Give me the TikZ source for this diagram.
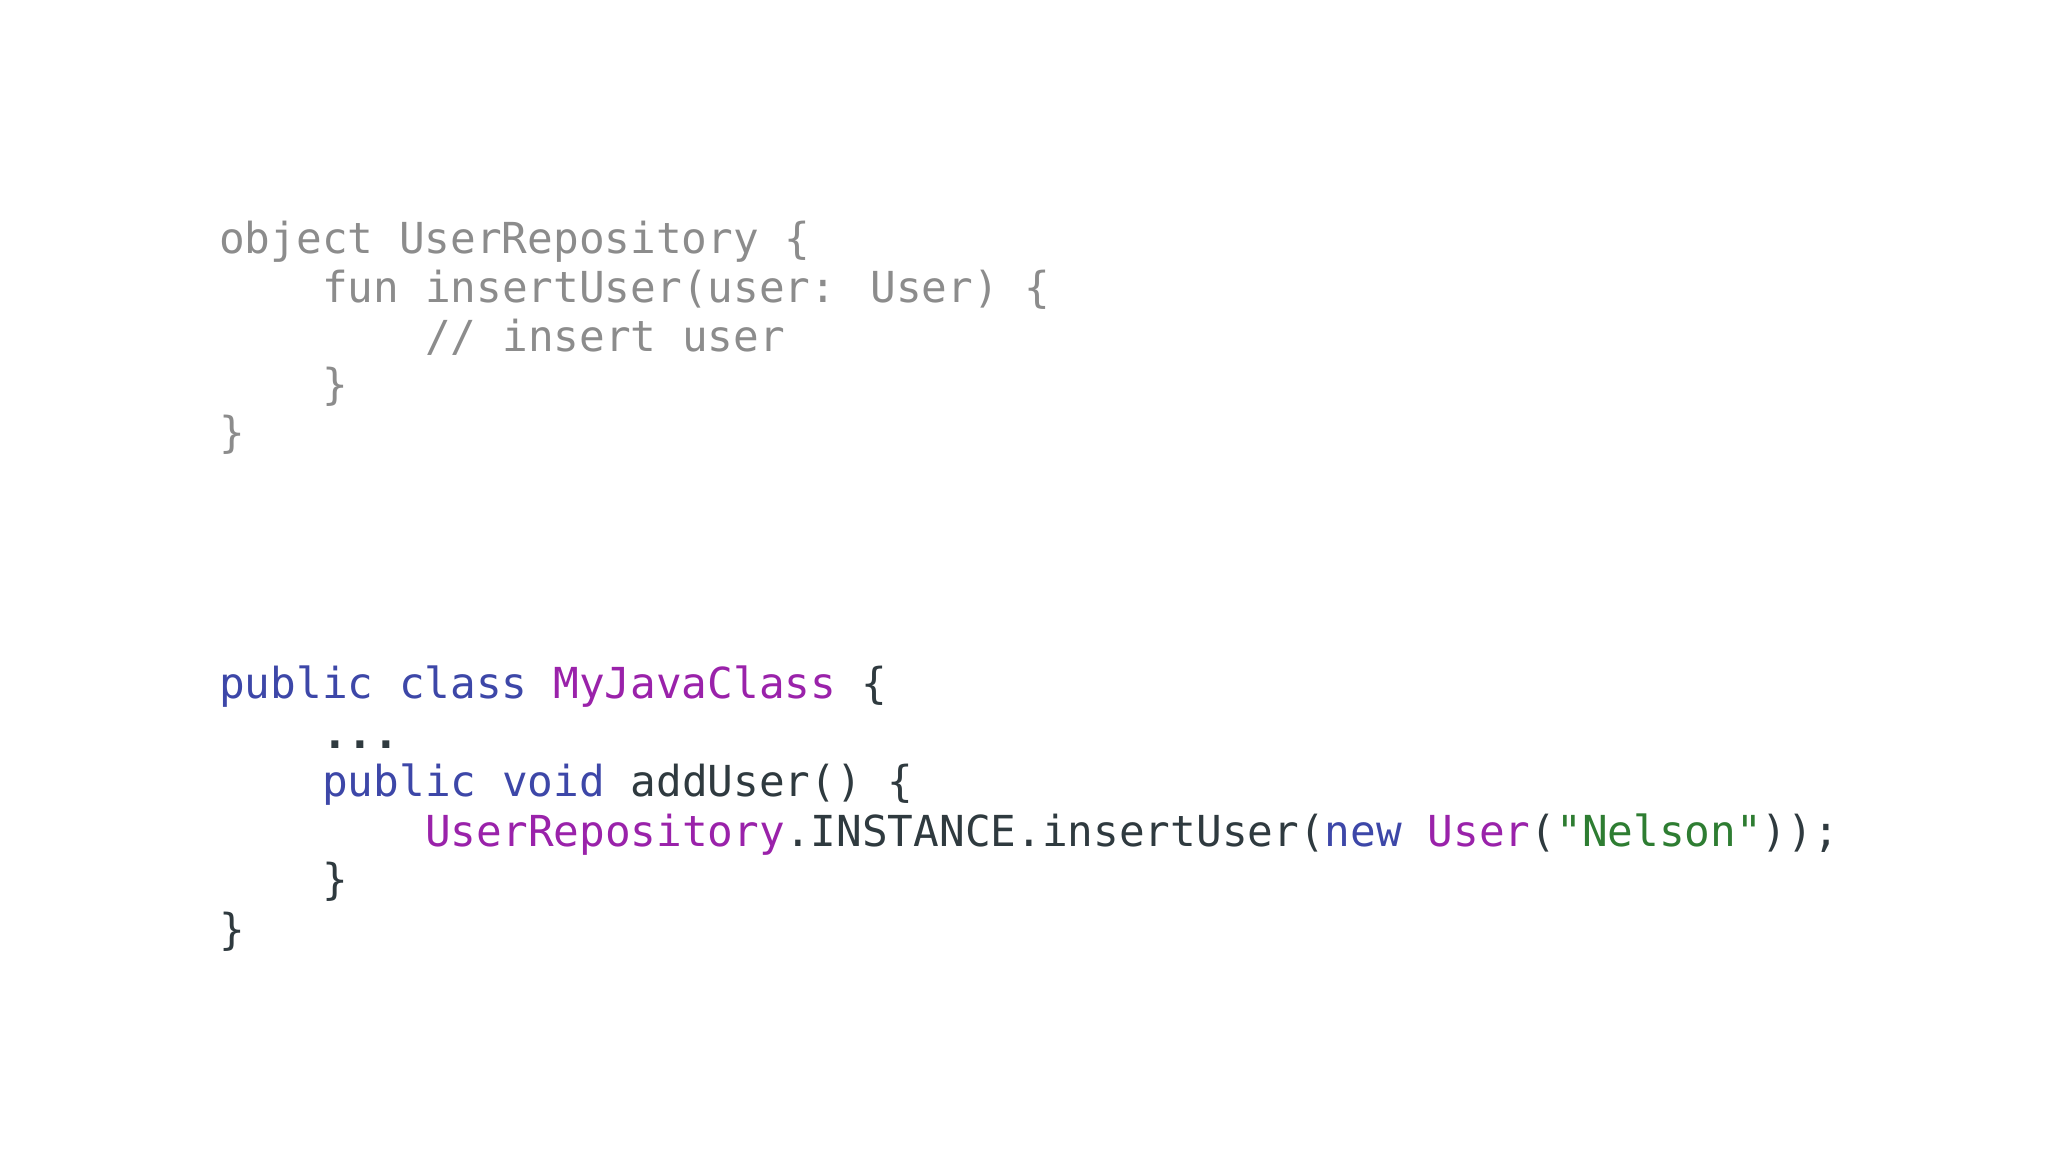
\documentclass[tikz,border=0pt]{standalone}
\usepackage{fontspec}
\newfontfamily\cf{DejaVu Sans Mono}
\definecolor{cgray}{HTML}{8C8C8C}
\definecolor{cblue}{HTML}{3D47A8}
\definecolor{cpurp}{HTML}{9A22AA}
\definecolor{cgreen}{HTML}{2E7D32}
\definecolor{cdark}{HTML}{2F3A3F}
\newcommand{\B}[1]{\textcolor{cblue}{#1}}
\newcommand{\Pu}[1]{\textcolor{cpurp}{#1}}
\newcommand{\G}[1]{\textcolor{cgreen}{#1}}
\begin{document}
\begin{tikzpicture}[x=1pt,y=-1pt,
  code/.style={anchor=west,inner sep=0pt,font=\cf\fontsize{42.7}{50}\selectfont,text height=0.76em,text depth=0.24em},
  gr/.style={code,text=cgray},
  dk/.style={code,text=cdark}]
\fill[white] (0,0) rectangle (2048,1152);
\useasboundingbox (0,0) rectangle (2048,1152);
\node[gr] (a1) at (219,251) {object UserRepository \{};
\node[gr] (a2) at (322,300) {fun insertUser(user: User) \{};
\node[gr] (a3) at (425,349) {// insert user};
\node[gr] (a4) at (322,397) {\}};
\node[gr] (a5) at (219,445) {\}};
\node[dk] (b1) at (219,696) {\B{public class} \Pu{MyJavaClass} \{};
\node[dk] (b2) at (322,746) {\textbf{...}};
\node[dk] (b3) at (322,794) {\B{public void} addUser() \{};
\node[dk] (b4) at (425,844) {\Pu{UserRepository}.INSTANCE.insertUser(\B{new} \Pu{User}(\G{"Nelson"}));};
\node[dk] (b5) at (322,892) {\}};
\node[dk] (b6) at (219,942) {\}};
\end{tikzpicture}
\end{document}
